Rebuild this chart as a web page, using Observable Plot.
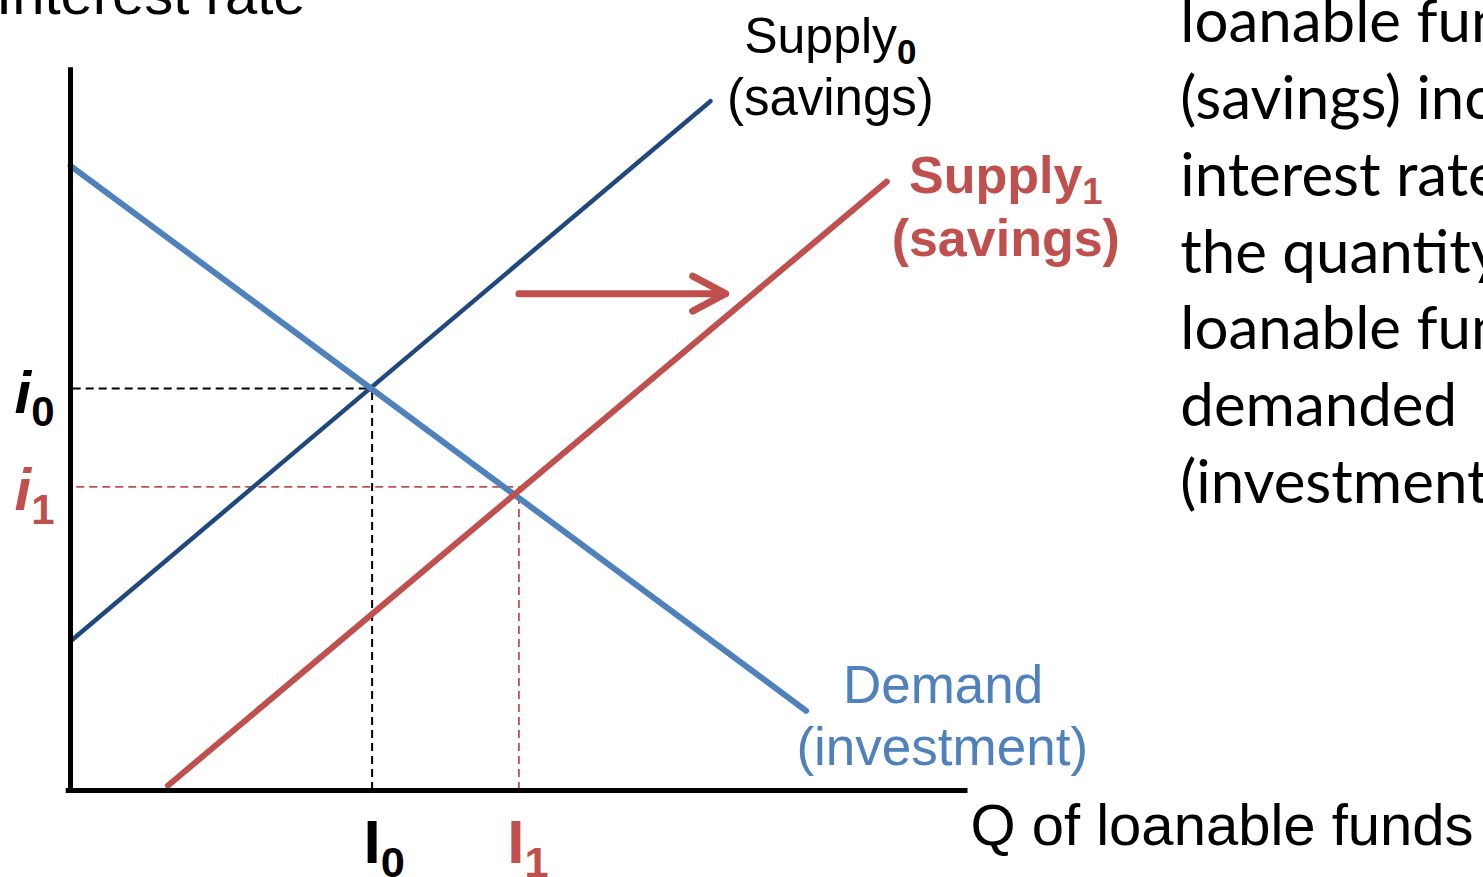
<!DOCTYPE html>
<html>
<head>
<meta charset="utf-8">
<script src="https://cdn.jsdelivr.net/npm/d3@7"></script>
<script src="https://cdn.jsdelivr.net/npm/@observablehq/plot@0.6"></script>
<style>
html, body { margin: 0; padding: 0; background: #fff; overflow: hidden; width: 1483px; height: 877px; }
#chart svg { display: block; overflow: hidden; }
</style>
</head>
<body>
<div id="chart"></div>
<script>
// ---- Data (quantity of loanable funds Q vs. interest rate r, arbitrary units) ----
const demandQ  = [0, 82.2];
const demandR  = [87.0, 11.1];
const supply0Q = [0, 71.5];
const supply0R = [20.8, 96.0];
const supply1Q = [10.9, 91.2];
const supply1R = [0.7, 84.8];
// Equilibria: I0/i0 (before) and I1/i1 (after)
const eqQ = [33.7, 50.1];
const eqR = [56.0, 42.3];
// Rightward shift arrow of the supply curve
const shiftQ = [50.1, 73.2];
const shiftR = [69.2];
// Text
const curveLabels = ["Supply_0", "(savings)", "Supply_1", "(savings)", "Demand", "(investment)"];
const rateLabels  = ["i_0", "i_1"];
const qtyLabels   = ["I_0", "I_1"];
const axisLabels  = ["Interest rate", "Q of loanable funds"];
const noteLines   = ["loanable funds", "(savings) increases,", "interest rate falls and", "the quantity of", "loanable funds", "demanded", "(investment) increases."];

// ---- Drawing ----
const RED = "#C0504D", NAVY = "#1F497D", BLUE = "#4F81BD";
const SANS = "'Liberation Sans', Arial, sans-serif";
const pts = (Q, R) => Q.map((q, i) => ({q, r: R[i]}));
const eq = eqQ.map((q, i) => ({q, r: eqR[i]}));
const ident = d => d;

const label = (t, x, y, o = {}) => Plot.text([t], {
  x, y, text: ident, fontFamily: SANS, fontSize: 52, fill: "black",
  textAnchor: "middle", lineAnchor: "middle", ...o
});

const chart = Plot.plot({
  width: 1483, height: 877,
  marginLeft: 70, marginRight: 518, marginTop: 72, marginBottom: 87,
  x: {domain: [0, 100], axis: null},
  y: {domain: [0, 100], axis: null},
  style: {background: "white", overflow: "hidden"},
  marks: [
    // dashed guides
    Plot.ruleY([eq[0]], {y: "r", x1: 0.3, x2: "q", stroke: "black", strokeWidth: 2, strokeDasharray: "8,5"}),
    Plot.ruleX([eq[0]], {x: "q", y1: 0, y2: "r", stroke: "black", strokeWidth: 2, strokeDasharray: "8,5"}),
    Plot.ruleY([eq[1]], {y: "r", x1: 0.7, x2: "q", stroke: RED, strokeWidth: 1.8, strokeDasharray: "8,5"}),
    Plot.ruleX([eq[1]], {x: "q", y1: 0, y2: "r", stroke: RED, strokeWidth: 1.8, strokeDasharray: "8,5"}),
    // curves
    Plot.line(pts(supply0Q, supply0R), {x: "q", y: "r", stroke: NAVY, strokeWidth: 4.5}),
    Plot.line(pts(demandQ, demandR), {x: "q", y: "r", stroke: BLUE, strokeWidth: 6}),
    Plot.line(pts(supply1Q, supply1R), {x: "q", y: "r", stroke: RED, strokeWidth: 6}),
    // shift arrow
    Plot.arrow([{a: shiftQ[0], b: shiftQ[1], r: shiftR[0]}], {
      x1: "a", x2: "b", y1: "r", y2: "r", stroke: RED, strokeWidth: 7,
      headAngle: 56, headLength: 8, strokeLinecap: "round", strokeLinejoin: "round"
    }),
    // axes
    Plot.ruleX([0], {y1: 0, y2: 100.3, stroke: "black", strokeWidth: 5, strokeLinecap: "square"}),
    Plot.ruleY([0], {x1: -0.2, x2: 100, stroke: "black", strokeWidth: 5, strokeLinecap: "square"}),
    // curve labels
    label(curveLabels[0], 84.9, 105.0, {fontSize: 50}),
    label(curveLabels[1], 84.9, 96.3, {fontSize: 51}),
    label(curveLabels[2], 104.5, 85.6, {fill: RED, fontWeight: "bold"}),
    label(curveLabels[3], 104.5, 76.8, {fill: RED, fontWeight: "bold"}),
    label(curveLabels[4], 97.5, 14.5, {fill: BLUE, fontSize: 53}),
    label(curveLabels[5], 97.4, 5.85, {fill: BLUE, fontSize: 53}),
    // equilibrium labels
    label(rateLabels[0], -6.26, 55.3, {fontSize: 60, fontWeight: "bold", fontStyle: "italic", textAnchor: "start"}),
    label(rateLabels[1], -6.26, 41.7, {fontSize: 60, fontWeight: "bold", fontStyle: "italic", textAnchor: "start", fill: RED}),
    label(qtyLabels[0], 32.74, -7.4, {fontSize: 62, fontWeight: "bold", textAnchor: "start"}),
    label(qtyLabels[1], 48.8, -7.4, {fontSize: 62, fontWeight: "bold", textAnchor: "start", fill: RED}),
    // axis labels
    label(axisLabels[0], 26.26, 110.67, {fontSize: 58, textAnchor: "end"}),
    label(axisLabels[1], 100.56, -5.07, {fontSize: 58, textAnchor: "start"}),
    // explanatory note
    Plot.text([noteLines.join("\n")], {
      x: 124.0, y: 111.8, text: ident, fontFamily: "Lato, 'Open Sans', sans-serif",
      fontSize: 60, lineHeight: 1.28, textAnchor: "start", lineAnchor: "top", fill: "black"
    })
  ]
});

document.getElementById("chart").appendChild(chart);

// subscripts: "Name_0" -> Name + subscript tspan
chart.querySelectorAll("text").forEach(t => {
  if (t.childElementCount) return;
  const m = t.textContent.match(/^(.*)_(\d)$/);
  if (!m) return;
  const fs = parseFloat(getComputedStyle(t).fontSize);
  t.textContent = m[1];
  const sub = document.createElementNS("http://www.w3.org/2000/svg", "tspan");
  sub.setAttribute("font-size", (fs * 0.7).toFixed(1));
  sub.setAttribute("font-weight", "bold");
  sub.setAttribute("font-style", "normal");
  sub.setAttribute("dy", (fs * 0.22).toFixed(1));
  sub.textContent = m[2];
  t.appendChild(sub);
});
</script>
</body>
</html>
